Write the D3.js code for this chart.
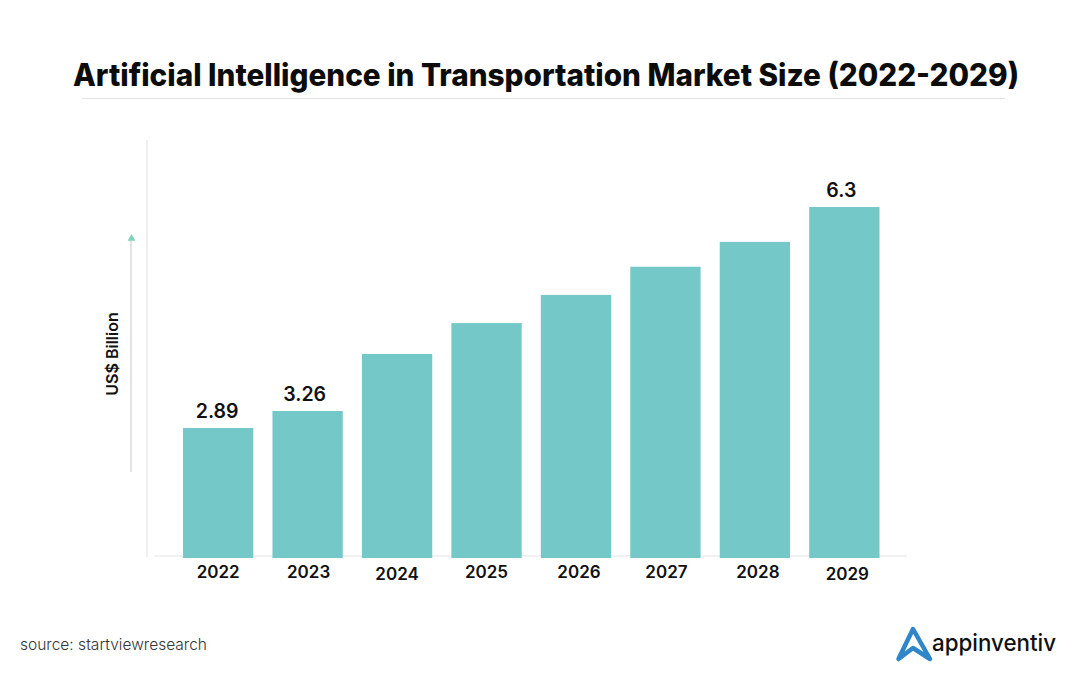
<!DOCTYPE html>
<html>
<head>
<meta charset="utf-8">
<style>
  html, body { margin: 0; padding: 0; background: #fff; }
  svg { display: block; }
</style>
<script src="https://cdn.jsdelivr.net/npm/d3@7"></script>
</head>
<body>
<svg></svg>
<script>
let years = ["2022", "2023", "2024", "2025", "2026", "2027", "2028", "2029"];
let marketSize = [2.89, 3.26, 4.11, 4.57, 4.99, 5.41, 5.78, 6.3];
let printedLabels = ["2.89", "3.26", "", "", "", "", "", "6.3"];

let width = 1080;
let height = 682;
let barColor = "#74c9c8";
let textColor = "#111111";

// the year labels in the picture sit slightly unevenly
let tickNudgeX = [0, 1, 0, 0, 3, 1, 3, 3];
let tickNudgeY = [0, 0, 2, 0, 0, 0, 0, 2];

let svg = d3.select("svg").attr("width", width).attr("height", height);

let xScale = d3
  .scaleBand()
  .domain(years)
  .range([183, 879.5])
  .paddingInner(0.214)
  .paddingOuter(0);

// the bars in the picture are not drawn to a common zero, so the scale has breaks
let yScale = d3
  .scaleLinear()
  .domain([0, 2.89, 3.26, 6.3])
  .range([558, 428, 411, 207]);

let drawTitle = () => {
  svg
    .append("text")
    .attr("x", 546)
    .attr("y", 86)
    .attr("text-anchor", "middle")
    .attr("font-family", "Inter")
    .attr("font-weight", 800)
    .attr("font-size", 31)
    .attr("textLength", 946)
    .attr("lengthAdjust", "spacingAndGlyphs")
    .attr("fill", "#0c0c0c")
    .text("Artificial Intelligence in Transportation Market Size (2022-2029)");

  svg
    .append("line")
    .attr("x1", 82)
    .attr("x2", 1005)
    .attr("y1", 98.5)
    .attr("y2", 98.5)
    .attr("stroke", "#e2e2e2");
};

let drawAxes = () => {
  // left rule
  svg
    .append("line")
    .attr("x1", 147)
    .attr("x2", 147)
    .attr("y1", 140)
    .attr("y2", 557)
    .attr("stroke", "#e4e4e4")
    .attr("stroke-width", 1.2);

  // baseline
  svg
    .append("line")
    .attr("x1", 155)
    .attr("x2", 907)
    .attr("y1", 556)
    .attr("y2", 556)
    .attr("stroke", "#e4e4e4")
    .attr("stroke-width", 1.2);

  let xAxis = d3.axisBottom(xScale).tickSize(0).tickPadding(0);
  let xAxisGroup = svg
    .append("g")
    .attr("id", "x-axis")
    .attr("transform", "translate(0, 566)")
    .call(xAxis);
  xAxisGroup.select(".domain").remove();
  xAxisGroup
    .selectAll("text")
    .attr("dx", (item, i) => tickNudgeX[i])
    .attr("dy", (item, i) => tickNudgeY[i] + 12)
    .attr("font-family", "Inter")
    .attr("font-weight", 600)
    .attr("font-size", 17)
    .attr("fill", textColor);

  // arrow next to the axis title
  svg
    .append("line")
    .attr("x1", 131)
    .attr("x2", 131)
    .attr("y1", 472)
    .attr("y2", 240)
    .attr("stroke", "#cfcfcf")
    .attr("stroke-width", 1.2);
  svg
    .append("path")
    .attr("d", d3.symbol(d3.symbolTriangle, 26))
    .attr("transform", "translate(131.5, 238.5)")
    .attr("fill", "#7dd3bd");

  svg
    .append("text")
    .attr("transform", "translate(117.5, 354) rotate(-90)")
    .attr("text-anchor", "middle")
    .attr("font-family", "Inter")
    .attr("font-weight", 600)
    .attr("font-size", 16)
    .attr("fill", textColor)
    .text("US$ Billion");
};

let drawBars = () => {
  let baseY = yScale(0);

  svg
    .selectAll("rect.bar")
    .data(marketSize)
    .enter()
    .append("rect")
    .attr("class", "bar")
    .attr("x", (item, i) => xScale(years[i]))
    .attr("y", (item) => yScale(item))
    .attr("width", xScale.bandwidth())
    .attr("height", (item) => baseY - yScale(item))
    .attr("fill", barColor);

  svg
    .selectAll("text.value")
    .data(printedLabels)
    .enter()
    .append("text")
    .attr("class", "value")
    .attr("x", (item, i) => xScale(years[i]) + xScale.bandwidth() / 2 - (i == 0 ? 1 : 3))
    .attr("y", (item, i) => yScale(marketSize[i]) - 10)
    .attr("text-anchor", "middle")
    .attr("font-family", "Inter")
    .attr("font-weight", 600)
    .attr("font-size", 19.5)
    .attr("fill", textColor)
    .text((item) => item);
};

let drawFooter = () => {
  svg
    .append("text")
    .attr("x", 20)
    .attr("y", 650)
    .attr("font-family", "Inter")
    .attr("font-weight", 300)
    .attr("font-size", 15.5)
    .attr("textLength", 187)
    .attr("lengthAdjust", "spacingAndGlyphs")
    .attr("fill", "#333333")
    .text("source: startviewresearch");

  // logo mark
  svg
    .append("path")
    .attr("d", "M898.5 659 L913 629 L930 659 L913 648 Z")
    .attr("fill", "none")
    .attr("stroke", "#2f86c8")
    .attr("stroke-width", 4.5)
    .attr("stroke-linejoin", "round");

  svg
    .append("text")
    .attr("x", 932)
    .attr("y", 651)
    .attr("font-family", "Inter")
    .attr("font-weight", 500)
    .attr("font-size", 23.5)
    .attr("textLength", 124)
    .attr("lengthAdjust", "spacingAndGlyphs")
    .attr("fill", "#111111")
    .text("appinventiv");
};

drawTitle();
drawAxes();
drawBars();
drawFooter();
</script>
</body>
</html>
